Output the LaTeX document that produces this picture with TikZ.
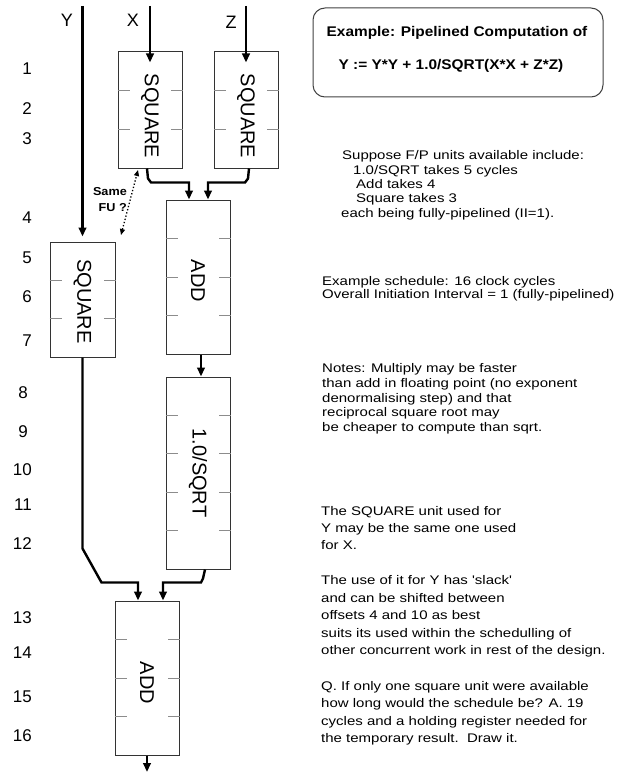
\documentclass[tikz,border=0pt]{standalone}
\usepackage{fontspec}
\setmainfont{Liberation Sans}
\newfontfamily\widefont[FakeStretch=1.2]{Liberation Sans}
\newfontfamily\titlefont[FakeStretch=1.1]{Liberation Sans}
\usetikzlibrary{arrows.meta,calc}
\begin{document}
\begin{tikzpicture}[x=1pt,y=-1pt,
  fu/.style={draw=black!80,line width=1pt,minimum width=64pt,inner sep=0pt},
  fulabel/.style={rotate=-90,font=\fontsize{20}{20}\selectfont,inner sep=0pt},
  tick/.style={draw=black!45,line width=1pt},
  conn/.style={line width=2.4pt,-{Triangle[width=7.5pt,length=9pt]}},
  dotarrow/.style={line width=1.3pt,dotted,{Triangle[width=5pt,length=6pt]}-{Triangle[width=5pt,length=6pt]}},
  num/.style={anchor=base east,font=\fontsize{17}{17}\selectfont,inner sep=0pt},
  var/.style={font=\fontsize{18}{18}\selectfont,inner sep=0pt},
  body/.style={anchor=base west,inner sep=0pt,font=\widefont\fontsize{12.5}{12.5}\selectfont},
  ttl/.style={anchor=base,inner sep=0pt,font=\titlefont\bfseries\fontsize{14}{14}\selectfont},
  note/.style={align=right,anchor=east,inner sep=0pt,font=\titlefont\bfseries\fontsize{11.5}{16}\selectfont}
]
\useasboundingbox (0,0) rectangle (616,773);

% row numbers
\node[num] (n1) at (32,75) {1};
\node[num] (n2) at (32,115) {2};
\node[num] (n3) at (32,144) {3};
\node[num] (n4) at (32,223) {4};
\node[num] (n5) at (32,263) {5};
\node[num] (n6) at (32,302) {6};
\node[num] (n7) at (32,346) {7};
\node[num] (n8) at (28,398) {8};
\node[num] (n9) at (28,437) {9};
\node[num] (n10) at (32,475) {10};
\node[num] (n11) at (32,510) {11};
\node[num] (n12) at (32,549) {12};
\node[num] (n13) at (32,623) {13};
\node[num] (n14) at (32,658) {14};
\node[num] (n15) at (32,702) {15};
\node[num] (n16) at (32,741) {16};

% input labels
\node[var] (ylab) at (67,20) {Y};
\node[var] (xlab) at (133,20) {X};
\node[var] (zlab) at (231,22) {Z};

% functional units
\node[fu,minimum height=116pt] (sqX) at (150,110) {};
\node[fu,minimum height=116pt] (sqZ) at (246,110) {};
\node[fu,minimum height=154pt] (add1) at (198,277) {};
\node[fu,minimum height=115pt,minimum width=65pt] (sqY) at (82.5,299.5) {};
\node[fu,minimum height=192pt] (sqrt) at (198,473) {};
\node[fu,minimum height=154pt] (add2) at (147,678) {};

\node[fulabel] (sqXl) at ($(sqX)+(0,6)$) {SQUARE};
\node[fulabel] (sqZl) at ($(sqZ)+(0,6)$) {SQUARE};
\node[fulabel] (add1l) at ($(add1)+(0,4)$) {ADD};
\node[fulabel] (sqYl) at ($(sqY)+(0,2)$) {SQUARE};
\node[fulabel] (sqrtl) at (sqrt) {1.0/SQRT};
\node[fulabel] (add2l) at ($(add2)+(0,5)$) {ADD};

% pipeline stage ticks
\foreach \b/\n in {sqX/3,sqZ/3,add1/4,sqY/3,sqrt/5,add2/4}{
  \pgfmathtruncatemacro{\m}{\n-1}
  \foreach \i in {1,...,\m}{
    \draw[tick] ($(\b.north west)!\i/\n!(\b.south west)$) -- ++(12,0);
    \draw[tick] ($(\b.north east)!\i/\n!(\b.south east)$) -- ++(-12,0);
  }
}

% inputs
\coordinate (yin) at (82.5,6);
\coordinate (xin) at (150,6);
\coordinate (zin) at (246,6);
\draw[conn] (yin) -- ([yshift=5pt]sqY.north);
\draw[conn] (xin) -- ([yshift=-11pt]sqX.north);
\draw[conn] (zin) -- ([yshift=-11pt]sqZ.north);

% connections
\draw[conn] ([xshift=-3pt]sqX.south) -- ++(1,10) -- ++(3,4) -| ([xshift=-9pt]add1.north);
\draw[conn] ([xshift=3pt]sqZ.south) -- ++(-1,10) -- ++(-3,4) -| ([xshift=10pt]add1.north);
\draw[conn] ([xshift=3pt]add1.south) -- ([xshift=3pt]sqrt.north);
\draw[conn] (sqY.south) -- ++(0,191) -- ++(19,34) -| ([xshift=-9pt]add2.north);
\draw[conn] ([xshift=7pt]sqrt.south) -- ++(-2,9) -- ++(-2,4) -| ([xshift=16pt]add2.north);
\coordinate (out) at (147,772);
\draw[conn] (add2.south) -- (out);

% same FU note
\coordinate (fuA) at (121,235);
\coordinate (fuB) at (138,170);
\draw[dotarrow] (fuA) -- (fuB);
\node[note] (samefu) at (127,200) {Same\\FU ?};

% title box
\node[draw=black!75,line width=1pt,rounded corners=12pt,minimum width=290pt,minimum height=89pt] (title) at (458,52.5) {};
\node[ttl] (t1) at (457,37) {Example: Pipelined Computation of};
\node[ttl] (t2) at (451,70) {Y := Y*Y + 1.0/SQRT(X*X + Z*Z)};

% text blocks
\node[body] (a1) at (342,159) {Suppose F/P units available include:};
\node[body] (a2) at (353,174) {1.0/SQRT takes 5 cycles};
\node[body] (a3) at (356,188) {Add takes 4};
\node[body] (a4) at (356,202) {Square takes 3};
\node[body] (a5) at (341,217) {each being fully-pipelined (II=1).};

\node[body] (b1) at (322,285) {Example schedule: 16 clock cycles};
\node[body] (b2) at (322,298) {Overall Initiation Interval = 1 (fully-pipelined)};

\node[body] (c1) at (322,372) {Notes: Multiply may be faster};
\node[body] (c2) at (322,387) {than add in floating point (no exponent};
\node[body] (c3) at (322,402) {denormalising step) and that};
\node[body] (c4) at (322,416) {reciprocal square root may};
\node[body] (c5) at (322,431) {be cheaper to compute than sqrt.};

\node[body] (d1) at (321,515) {The SQUARE unit used for};
\node[body] (d2) at (321,532) {Y may be the same one used};
\node[body] (d3) at (321,549) {for X.};

\node[body] (e1) at (321,584) {The use of it for Y has 'slack'};
\node[body] (e2) at (321,602) {and can be shifted between};
\node[body] (e3) at (321,619) {offsets 4 and 10 as best};
\node[body] (e4) at (321,637) {suits its used within the schedulling of};
\node[body] (e5) at (321,654) {other concurrent work in rest of the design.};

\node[body] (f1) at (321,690) {Q. If only one square unit were available};
\node[body] (f2) at (321,707) {how long would the schedule be? A. 19};
\node[body] (f3) at (321,725) {cycles and a holding register needed for};
\node[body] (f4) at (321,742) {the temporary result.\ \ Draw it.};
\end{tikzpicture}
\end{document}
